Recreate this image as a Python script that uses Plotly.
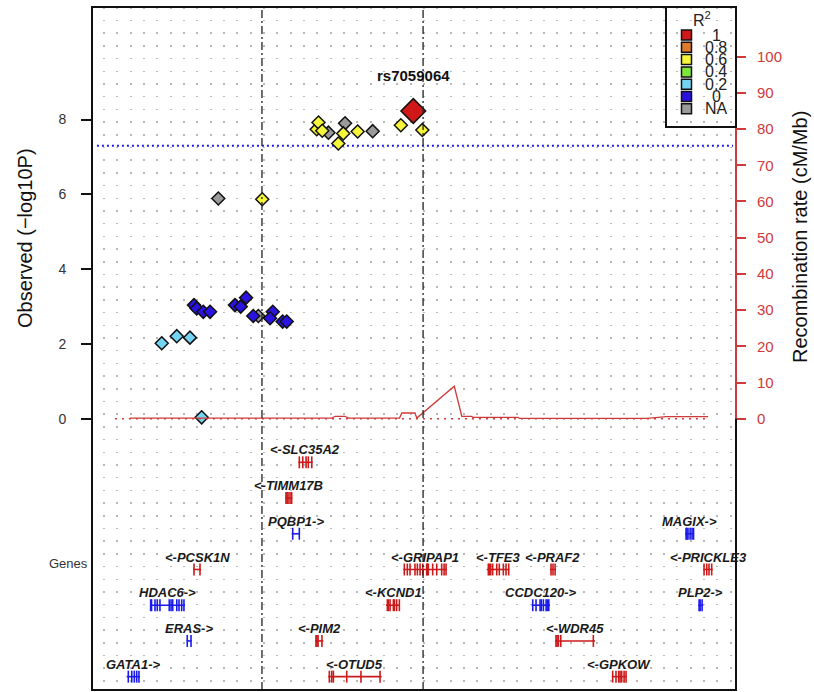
import plotly.graph_objects as go

# ---------------- data ----------------
# SNP positions (kb on chrX) and -log10 P, by R^2 class
snp_na_pos = [48704.2, 48730.9, 48777.6, 48788.7, 48807.1]
snp_na_logp = [5.89, 2.75, 7.65, 7.90, 7.69]

snp_r0_pos = [48688.0, 48689.8, 48694.2, 48698.7, 48715.3, 48719.1, 48722.7,
              48727.5, 48740.5, 48738.7, 48747.1, 48749.8]
snp_r0_logp = [3.04, 2.95, 2.86, 2.86, 3.04, 3.00, 3.24, 2.75, 2.86, 2.69, 2.60, 2.60]

snp_r02_pos = [48666.5, 48676.5, 48685.3, 48693.1]
snp_r02_logp = [2.02, 2.21, 2.17, 0.04]

snp_r06_pos = [48733.5, 48769.8, 48771.0, 48773.5, 48784.2, 48787.5, 48797.1,
               48825.9, 48840.2]
snp_r06_logp = [5.87, 7.74, 7.92, 7.70, 7.36, 7.63, 7.68, 7.85, 7.72]

lead_name = "rs7059064"
lead_pos = [48834.2]
lead_logp = [8.23]

# recombination rate (cM/Mb)
recomb_pos = [48645.3, 48780.0, 48782.0, 48788.7, 48791.0, 48825.0, 48826.5,
              48835.3, 48836.5, 48861.5, 48866.5, 48873.0, 48874.0, 48904.0,
              48905.0, 48990.0, 49003.0, 49030.7]
recomb_rate = [0.2, 0.2, 0.7, 0.7, 0.2, 0.2, 1.6, 1.6, 0.2, 9.0, 0.7, 0.7,
               0.4, 0.4, 0.1, 0.1, 0.6, 0.6]

# genes: name, strand, row, start, end, exons
gene_names = ["SLC35A2", "TIMM17B", "PQBP1", "MAGIX", "PCSK1N", "GRIPAP1", "TFE3",
              "PRAF2", "PRICKLE3", "HDAC6", "KCND1", "CCDC120", "PLP2", "ERAS",
              "PIM2", "WDR45", "GATA1", "OTUD5", "GPKOW"]
gene_strand = ["-", "-", "+", "+", "-", "-", "-", "-", "-", "+", "-", "+", "+", "+",
               "-", "-", "+", "-", "-"]
gene_row = [0, 1, 2, 2, 3, 3, 3, 3, 3, 4, 4, 4, 4, 5, 5, 5, 6, 6, 6]
gene_start = [48757.5, 48748.7, 48753.1, 49015.3, 48687.5, 48827.5, 48883.1,
              48925.3, 49027.5, 48658.7, 48816.0, 48913.1, 49024.2, 48683.1,
              48768.7, 48928.7, 48643.1, 48777.5, 48966.5]
gene_end = [48767.1, 48753.5, 48758.7, 49021.3, 48692.7, 48856.5, 48898.2,
            48929.3, 49033.8, 48682.0, 48825.3, 48925.3, 49027.5, 48686.4,
            48774.2, 48955.3, 48652.0, 48813.1, 48976.5]
gene_exons = [
    [48758.2, 48760.5, 48762.7, 48764.2, 48766.5],
    [48749.3, 48750.0, 48750.7, 48752.0, 48753.1],
    [48753.8, 48758.2],
    [49016.0, 49016.6, 49017.3, 49018.7, 49020.0, 49021.0],
    [48688.0, 48692.0],
    [48828.2, 48830.2, 48832.0, 48835.3, 48836.9, 48838.7, 48840.5, 48843.1,
     48843.6, 48844.2, 48847.1, 48849.8, 48853.1, 48854.7, 48856.0],
    [48884.2, 48884.9, 48885.8, 48887.1, 48889.8, 48891.5, 48894.2, 48896.0, 48897.8],
    [48926.0, 48927.3, 48928.7],
    [49028.0, 49029.8, 49031.3, 49033.1],
    [48659.1, 48659.7, 48662.0, 48663.5, 48665.3, 48671.5, 48672.7, 48673.8,
     48676.5, 48678.0, 48679.8, 48681.3],
    [48816.9, 48817.6, 48818.7, 48820.9, 48821.6, 48823.1, 48824.9],
    [48913.8, 48916.0, 48918.7, 48919.5, 48920.9, 48922.7, 48923.5, 48924.5],
    [49024.7, 49025.4, 49026.7],
    [48683.5, 48686.0],
    [48769.3, 48770.0, 48770.7, 48773.3],
    [48929.3, 48930.0, 48930.9, 48932.5, 48954.2],
    [48644.2, 48646.5, 48648.2, 48649.8, 48651.3],
    [48778.2, 48779.8, 48780.9, 48789.8, 48799.3, 48812.0],
    [48967.1, 48969.3, 48971.1, 48972.0, 48973.1, 48974.7, 48976.0],
]

gwas_threshold = 7.3
ref_lines = [48733.3, 48840.7]

legend_labels = ["1", "0.8", "0.6", "0.4", "0.2", "0", "NA"]
legend_colors = ["#d01818", "#de7a2c", "#f5f53a", "#7ce83a", "#74d4f2", "#2a12e0", "#9a9a9a"]

left_ticks = [0, 2, 4, 6, 8]
right_ticks = [0, 10, 20, 30, 40, 50, 60, 70, 80, 90, 100]
genes_label = "Genes"

# ---------------- layout constants ----------------
X0, X1 = 48620.0, 49049.3
Y0, Y1 = -7.25, 11.01
PX_PER_UNIT = 37.41
R_PX_PER_UNIT = 3.623
R0, R1 = Y0 * PX_PER_UNIT / R_PX_PER_UNIT, Y1 * PX_PER_UNIT / R_PX_PER_UNIT
ROW_Y0, ROW_STEP = -1.163, 0.955
EXON_H = 0.16
GENES_Y = -3.855

FONT = "Liberation Sans, Arial, sans-serif"
GENE_RED = "#cc1a1a"
GENE_BLUE = "#1a1aee"
REC_RED = "#cf3a3a"

fig = go.Figure()

# recombination baseline and line (right axis)
fig.add_trace(go.Scatter(x=[48635.3, 49030.7], y=[0, 0], yaxis="y2", mode="lines",
                         line=dict(color=REC_RED, width=1.5, dash="2px,5px"),
                         hoverinfo="skip", showlegend=False))
fig.add_trace(go.Scatter(x=recomb_pos, y=recomb_rate, yaxis="y2", mode="lines",
                         line=dict(color=REC_RED, width=1.3),
                         hoverinfo="skip", showlegend=False))

# threshold line
fig.add_trace(go.Scatter(x=[48623.3, 49047.3], y=[gwas_threshold] * 2, mode="lines",
                         line=dict(color="#2020ee", width=2, dash="2px,3px"),
                         hoverinfo="skip", showlegend=False))

# genes
for color, strand in [(GENE_RED, "-"), (GENE_BLUE, "+")]:
    xs, ys = [], []
    for i in range(len(gene_names)):
        if gene_strand[i] != strand:
            continue
        gy = ROW_Y0 - gene_row[i] * ROW_STEP
        xs += [gene_start[i], gene_end[i], None]
        ys += [gy, gy, None]
        for e in gene_exons[i]:
            xs += [e, e, None]
            ys += [gy - EXON_H, gy + EXON_H, None]
    fig.add_trace(go.Scatter(x=xs, y=ys, mode="lines", line=dict(color=color, width=1.6),
                             hoverinfo="skip", showlegend=False, connectgaps=False))

for i, name in enumerate(gene_names):
    gy = ROW_Y0 - gene_row[i] * ROW_STEP
    label = ("&lt;-" + name) if gene_strand[i] == "-" else (name + "->")
    fig.add_annotation(x=(gene_start[i] + gene_end[i]) / 2, y=gy + 0.33,
                       text="<b><i>" + label + "</i></b>", showarrow=False,
                       font=dict(family=FONT, size=13, color="#1a1a1a"),
                       xanchor="center", yanchor="middle")

# SNPs
def add_snps(px, py, color, size):
    fig.add_trace(go.Scatter(x=px, y=py, mode="markers",
                             marker=dict(symbol="diamond", size=size, color=color,
                                         line=dict(color="#111111", width=1.5)),
                             hoverinfo="skip", showlegend=False))

add_snps(snp_na_pos, snp_na_logp, legend_colors[6], 10)
add_snps(snp_r0_pos, snp_r0_logp, legend_colors[5], 10)
add_snps(snp_r02_pos, snp_r02_logp, legend_colors[4], 10)
add_snps(snp_r06_pos, snp_r06_logp, legend_colors[2], 10)
add_snps(lead_pos, lead_logp, legend_colors[0], 19)

fig.add_annotation(x=lead_pos[0], y=lead_logp[0] + 0.95, text="<b>" + lead_name + "</b>",
                   showarrow=False, font=dict(family=FONT, size=15, color="#111111"),
                   xanchor="center", yanchor="middle")

# shapes
shapes = []
for xv in ref_lines:
    shapes.append(dict(type="line", xref="x", yref="paper", x0=xv, x1=xv, y0=0, y1=1,
                       line=dict(color="#222222", width=1.3, dash="8px,3px,2px,3px")))
shapes.append(dict(type="rect", xref="paper", yref="paper", x0=0, x1=1, y0=0, y1=1,
                   line=dict(color="#111111", width=2)))
shapes.append(dict(type="line", xref="paper", yref="y2", x0=1, x1=1, y0=0, y1=100,
                   line=dict(color=REC_RED, width=2)))

# legend box (pixel geometry converted to paper)
PLOT_L, PLOT_W, PLOT_B, PLOT_H = 92, 644, 690, 683
def px_x(p):
    return (p - PLOT_L) / PLOT_W
def px_y(p):
    return (PLOT_B - p) / PLOT_H

shapes.append(dict(type="rect", xref="paper", yref="paper", x0=px_x(666), x1=1,
                   y0=px_y(127), y1=1, line=dict(color="#111111", width=2)))
leg_y = [35, 47.3, 59.6, 71.9, 84.2, 96.5, 108.8]
for lbl, col, yy in zip(legend_labels, legend_colors, leg_y):
    shapes.append(dict(type="rect", xref="paper", yref="paper",
                       x0=px_x(681.5), x1=px_x(691.5), y0=px_y(yy + 5), y1=px_y(yy - 5),
                       fillcolor=col, line=dict(color="#111111", width=1.5)))
    fig.add_annotation(xref="paper", yref="paper", x=px_x(716), y=px_y(yy), text=lbl,
                       showarrow=False, xanchor="center", yanchor="middle",
                       font=dict(family=FONT, size=16, color="#222222"))
fig.add_annotation(xref="paper", yref="paper", x=px_x(702), y=px_y(19),
                   text="R<sup>2</sup>", showarrow=False, xanchor="center", yanchor="middle",
                   font=dict(family=FONT, size=16, color="#222222"))

# "Genes" row label on the left axis
fig.add_annotation(xref="paper", yref="y", x=px_x(90), y=GENES_Y, text=genes_label,
                   showarrow=False, xanchor="right", yanchor="middle",
                   font=dict(family=FONT, size=13, color="#333333"))

# axis titles
fig.add_annotation(xref="paper", yref="paper", x=px_x(25), y=px_y(238),
                   text="Observed (\u2212log10P)", textangle=-90, showarrow=False,
                   xanchor="center", yanchor="middle",
                   font=dict(family=FONT, size=20, color="#111111"))
fig.add_annotation(xref="paper", yref="paper", x=px_x(800), y=px_y(237),
                   text="Recombination rate (cM/Mb)", textangle=-90, showarrow=False,
                   xanchor="center", yanchor="middle",
                   font=dict(family=FONT, size=20, color="#111111"))

fig.update_layout(
    width=814, height=692,
    margin=dict(l=92, r=78, t=7, b=2),
    paper_bgcolor="white", plot_bgcolor="white",
    font=dict(family=FONT),
    shapes=shapes,
    xaxis=dict(range=[X0, X1], showticklabels=False, ticks="", zeroline=False,
               showline=False, showgrid=True, gridcolor="#b8b8b8", gridwidth=1.5,
               griddash="1.5px,11.2px", tick0=48628.0, dtick=8.889, fixedrange=True),
    yaxis=dict(range=[Y0, Y1], tickvals=left_ticks,
               ticktext=[str(t) for t in left_ticks],
               ticks="outside", ticklen=10, tickwidth=1.5, tickcolor="#111111",
               tickfont=dict(family=FONT, size=14, color="#333333"),
               ticklabelstandoff=12, showgrid=False, zeroline=False, showline=False),
    yaxis2=dict(range=[R0, R1], overlaying="y", side="right", tickvals=right_ticks,
                ticks="outside", ticklen=9, tickwidth=1.5, tickcolor=REC_RED,
                tickfont=dict(family=FONT, size=15, color=REC_RED),
                ticklabelstandoff=8, showgrid=False, zeroline=False, showline=False),
)

fig.write_html("out.html", config={"displayModeBar": False},
               post_script="document.body.style.margin='0';document.body.style.overflow='hidden';")
